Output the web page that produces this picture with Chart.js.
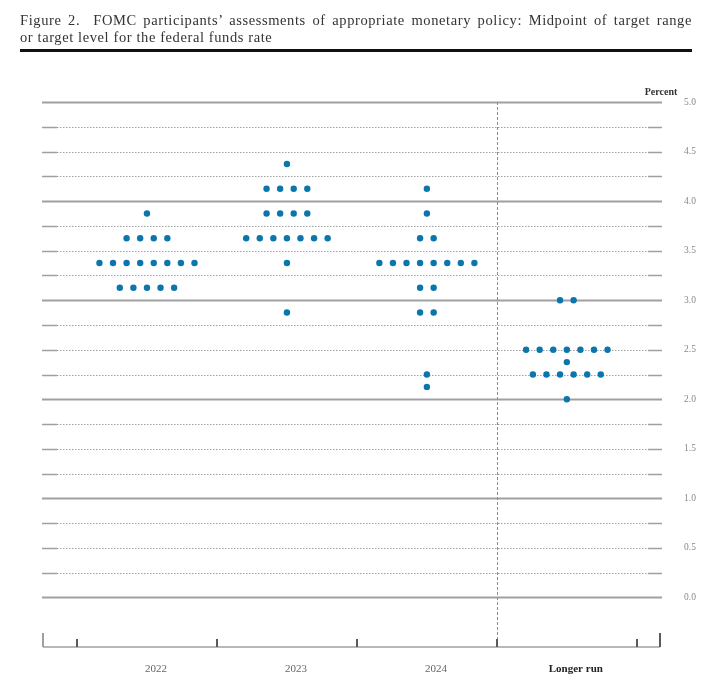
<!DOCTYPE html>
<html>
<head>
<meta charset="utf-8">
<title>FOMC dot plot</title>
<script src="https://cdn.jsdelivr.net/npm/chart.js@4/dist/chart.umd.min.js"></script>
<style>
    html, body { margin: 0; padding: 0; background: #fff; }
    #wrap { position: relative; width: 710px; height: 696px; overflow: hidden; }
    #dotChart { position: absolute; left: 0; top: 0; }
    #title {
        position: absolute; left: 20px; top: 12px; width: 672px;
        font-family: 'Liberation Serif', 'DejaVu Serif', serif;
        font-size: 14.5px; line-height: 17px; color: #333;
        letter-spacing: 0.6px;
        padding-bottom: 3px; border-bottom: 3px solid #111;
    }
    #title .first { text-align: justify; text-align-last: justify; }
    #title .second { text-align: left; }
</style>
</head>
<body>
<div id="wrap">
    <canvas id="dotChart" width="710" height="696"></canvas>
    <div id="title">
        <div class="first">Figure 2.&nbsp; FOMC participants’ assessments of appropriate monetary policy: Midpoint of target range</div>
        <div class="second">or target level for the federal funds rate</div>
    </div>
</div>
<script>
// FOMC dot plot - midpoint of target range, one dot per participant

// Categories along the bottom
const categories = ['2022', '2023', '2024', 'Longer run'];

// Rate levels (percent) and how many participants picked each one
const rates2022 = [3.875, 3.625, 3.375, 3.125];
const counts2022 = [1, 4, 8, 5];

const rates2023 = [4.375, 4.125, 3.875, 3.625, 3.375, 2.875];
const counts2023 = [1, 4, 4, 7, 1, 1];

const rates2024 = [4.125, 3.875, 3.625, 3.375, 3.125, 2.875, 2.25, 2.125];
const counts2024 = [1, 1, 2, 8, 2, 2, 1, 1];

const ratesLongerRun = [3.0, 2.5, 2.375, 2.25, 2.0];
const countsLongerRun = [2, 7, 1, 6, 1];

// Y axis range and tick step
const yMin = -0.5;
const yMax = 5.0;
const yStep = 0.25;

const allRates = [rates2022, rates2023, rates2024, ratesLongerRun];
const allCounts = [counts2022, counts2023, counts2024, countsLongerRun];

const DOT_COLOR = '#0b76ab';
const DOT_GAP = 0.097;   // horizontal gap between dots in one row (x units)
const SERIF = "'Liberation Serif', 'DejaVu Serif', serif";

document.addEventListener('DOMContentLoaded', function() {
    initializeDotPlot();
});

// Spread dots of the same row evenly around the category centre
function buildPoints() {
    const points = [];
    allRates.forEach((rates, c) => {
        rates.forEach((rate, r) => {
            const n = allCounts[c][r];
            for (let k = 0; k < n; k++) {
                points.push({ x: c + 1 + (k - (n - 1) / 2) * DOT_GAP, y: rate });
            }
        });
    });
    return points;
}

// Grid lines, separator, axis line and "Percent" caption
const fomcFramePlugin = {
    id: 'fomcFrame',
    beforeDatasetsDraw(chart) {
        const { ctx, chartArea, scales } = chart;
        const xs = scales.x;
        const ys = scales.y;
        const left = chartArea.left;
        const right = chartArea.right;
        ctx.save();

        // horizontal lines, solid on whole numbers, dotted elsewhere
        ys.ticks.forEach(t => {
            if (t.value < 0) return;
            const py = Math.round(ys.getPixelForValue(t.value)) + 0.5;
            const whole = Math.abs(t.value - Math.round(t.value)) < 1e-9;
            ctx.strokeStyle = '#a0a0a0';
            if (whole) {
                ctx.lineWidth = 1.8;
                ctx.setLineDash([]);
                ctx.beginPath();
                ctx.moveTo(left, py);
                ctx.lineTo(right, py);
                ctx.stroke();
            } else {
                ctx.lineWidth = 1;
                ctx.setLineDash([1.5, 1.5]);
                ctx.beginPath();
                ctx.moveTo(left + 15, py);
                ctx.lineTo(right - 14, py);
                ctx.stroke();
                // short solid caps at each end
                ctx.setLineDash([]);
                ctx.lineWidth = 1.6;
                ctx.beginPath();
                ctx.moveTo(left, py);
                ctx.lineTo(left + 15, py);
                ctx.moveTo(right - 14, py);
                ctx.lineTo(right, py);
                ctx.stroke();
            }
        });

        // dashed separator before the longer run column
        const sepX = Math.round(xs.getPixelForValue(categories.length - 0.5)) + 0.5;
        ctx.strokeStyle = '#8c8c8c';
        ctx.lineWidth = 1;
        ctx.setLineDash([3, 2]);
        ctx.beginPath();
        ctx.moveTo(sepX, ys.getPixelForValue(yMax));
        ctx.lineTo(sepX, chartArea.bottom);
        ctx.stroke();

        // bottom axis line with tick marks between categories
        const axisY = chartArea.bottom;
        ctx.setLineDash([]);
        ctx.strokeStyle = '#a0a0a0';
        ctx.lineWidth = 1.6;
        ctx.beginPath();
        ctx.moveTo(left + 1, axisY);
        ctx.lineTo(right - 2, axisY);
        ctx.stroke();

        ctx.strokeStyle = '#5a5a5a';
        ctx.lineWidth = 2;
        ctx.beginPath();
        for (let i = 0; i <= categories.length; i++) {
            const px = Math.round(xs.getPixelForValue(i + 0.5));
            ctx.moveTo(px, axisY);
            ctx.lineTo(px, axisY - 8);
        }
        ctx.moveTo(right - 2, axisY);
        ctx.lineTo(right - 2, axisY - 14);
        ctx.stroke();
        ctx.strokeStyle = '#a0a0a0';
        ctx.beginPath();
        ctx.moveTo(left + 1, axisY);
        ctx.lineTo(left + 1, axisY - 14);
        ctx.stroke();

        // units caption
        ctx.fillStyle = '#333';
        ctx.font = 'bold 10px ' + SERIF;
        ctx.textAlign = 'center';
        ctx.textBaseline = 'middle';
        ctx.fillText('Percent', right - 1, ys.getPixelForValue(yMax) - 10);

        ctx.restore();
    }
};

function initializeDotPlot() {
    const ctx = document.getElementById('dotChart');

    new Chart(ctx, {
        type: 'scatter',
        data: {
            datasets: [{
                label: 'Participants',
                data: buildPoints(),
                backgroundColor: DOT_COLOR,
                borderColor: DOT_COLOR,
                borderWidth: 0,
                pointRadius: 3.2,
                pointHoverRadius: 3.2
            }]
        },
        options: {
            responsive: false,
            animation: false,
            events: [],
            layout: {
                padding: { left: 42, top: 102, right: 0, bottom: 0 }
            },
            plugins: {
                legend: { display: false },
                tooltip: { enabled: false }
            },
            scales: {
                x: {
                    type: 'linear',
                    min: 0.25,
                    max: 4.68,
                    grid: { display: false, drawTicks: false },
                    border: { display: false },
                    afterBuildTicks: function(scale) {
                        scale.ticks = categories.map((c, i) => ({ value: i + 1 }));
                    },
                    afterFit: function(scale) {
                        scale.height = 49;
                    },
                    ticks: {
                        autoSkip: false,
                        maxRotation: 0,
                        padding: 16,
                        labelOffset: 9,
                        callback: function(value, index) {
                            return categories[index];
                        },
                        color: function(context) {
                            return context.index === categories.length - 1 ? '#222' : '#666';
                        },
                        font: function(context) {
                            const last = context.index === categories.length - 1;
                            return { family: SERIF, size: 11, weight: last ? 'bold' : 'normal' };
                        }
                    }
                },
                y: {
                    type: 'linear',
                    position: 'right',
                    min: yMin,
                    max: yMax,
                    grid: { display: false, drawTicks: false },
                    border: { display: false },
                    afterFit: function(scale) {
                        scale.width = 48;
                    },
                    ticks: {
                        stepSize: yStep,
                        autoSkip: false,
                        padding: 22,
                        color: '#888',
                        font: { family: SERIF, size: 9.5 },
                        callback: function(value) {
                            const half = Math.abs(value * 2 - Math.round(value * 2)) < 1e-9;
                            return value >= 0 && half ? value.toFixed(1) : '';
                        }
                    }
                }
            }
        },
        plugins: [fomcFramePlugin]
    });
}
</script>
</body>
</html>
